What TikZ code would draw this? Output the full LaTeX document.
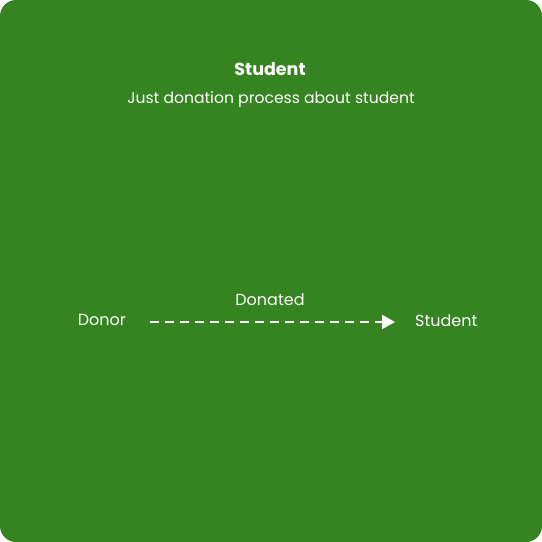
\documentclass[tikz,border=0pt]{standalone}
\usepackage{fontspec}
\setmainfont{Poppins}
\usetikzlibrary{arrows.meta}
\definecolor{bggreen}{HTML}{368421}
\tikzset{
  lbl/.style={text=white, font=\fontsize{16}{18}\selectfont, inner sep=0pt},
  sublbl/.style={text=white, font=\fontsize{15.6}{18}\selectfont, inner sep=0pt},
  ttl/.style={text=white, font=\fontsize{17.5}{20}\selectfont\bfseries, inner sep=0pt},
  flow/.style={draw=white, line width=2pt, dash pattern=on 9pt off 6pt, -{Triangle[length=13pt,width=14pt]}}
}
\begin{document}
\begin{tikzpicture}[x=1pt,y=-1pt]
\useasboundingbox (0,0) rectangle (542,542);
\fill[bggreen, rounded corners=16pt] (0,0) rectangle (542,542);
\node[ttl] (title) at (270,69) {Student};
\node[sublbl] (sub) at (271,100) {Just donation process about student};
\node[lbl, anchor=east] (donor) at (126,320) {Donor};
\node[lbl, anchor=west] (student) at (415,321) {Student};
\node[lbl] (lab) at (270,300) {Donated};
\coordinate (a) at (150,322);
\coordinate (b) at (395,322);
\draw[flow] (a) -- (b);
\end{tikzpicture}
\end{document}
